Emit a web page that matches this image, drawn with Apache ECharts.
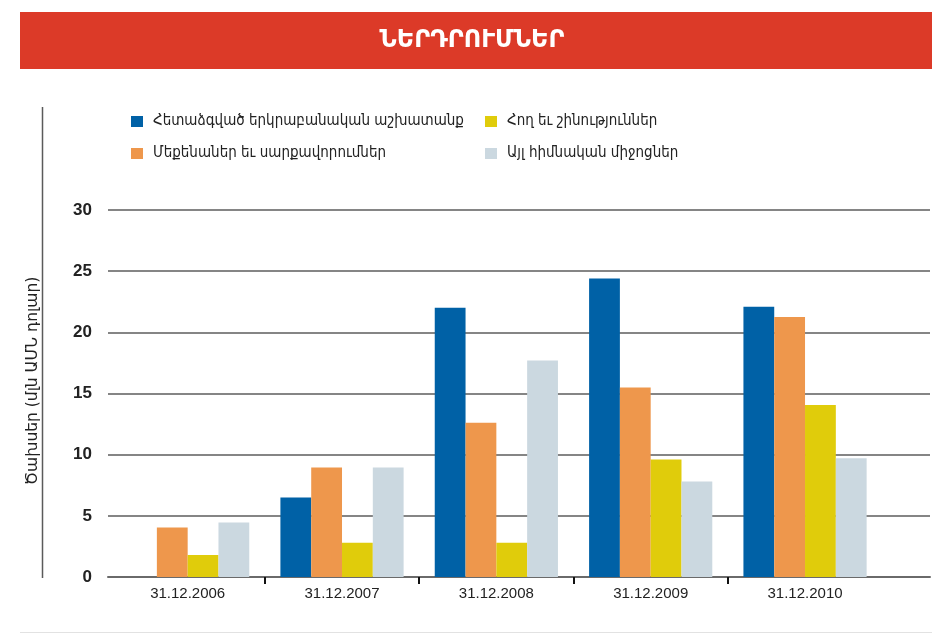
<!DOCTYPE html>
<html>
<head>
<meta charset="utf-8">
<script src="https://cdn.jsdelivr.net/npm/echarts@6/dist/echarts.min.js"></script>
<style>
html,body{margin:0;padding:0;background:#fff;}
#chart{width:932px;height:633px;}
</style>
</head>
<body>
<div id="chart"></div>
<script>
const titleText = 'ՆԵՐԴՐՈՒՄՆԵՐ';
const yAxisTitle = 'Ծախսեր (մլն ԱՄՆ դոլար)';
const categories = ['31.12.2006', '31.12.2007', '31.12.2008', '31.12.2009', '31.12.2010'];
const seriesNames = [
  'Հետաձգված երկրաբանական աշխատանք',
  'Մեքենաներ եւ սարքավորումներ',
  'Հող եւ շինություններ',
  'Այլ հիմնական միջոցներ'
];
const geoWork   = [null, 6.5, 22.0, 24.4, 22.1];
const machinery = [4.05, 8.95, 12.6, 15.5, 21.25];
const landBuild = [1.8, 2.8, 2.8, 9.6, 14.05];
const otherAssets = [4.45, 8.95, 17.7, 7.8, 9.7];
const yTicks = [0, 5, 10, 15, 20, 25, 30];
const boundaryTicks = [1, 2, 3, 4];

const colors = ['#0061A6', '#EE974C', '#E0CC0B', '#CBD8E0'];
const armFont = '"DejaVu Sans Condensed", "DejaVu Sans", sans-serif';

const chart = echarts.init(document.getElementById('chart'), null, {renderer: 'canvas'});
const values = [geoWork, machinery, landBuild, otherAssets];

const legendText = {fontFamily: armFont, fontSize: 15, color: '#222', padding: [0, 0, 0, 5]};

const option = {
  animation: false,
  backgroundColor: '#ffffff',
  graphic: [
    {type: 'rect', shape: {x: 20, y: 12, width: 912, height: 57}, style: {fill: '#DC3A28'}, z: 0},
    {type: 'text', x: 472, y: 41, style: {text: titleText, fill: '#ffffff', font: 'bold 24px "DejaVu Sans"', textAlign: 'center', textVerticalAlign: 'middle'}, z: 1},
    {type: 'line', shape: {x1: 42.5, y1: 107, x2: 42.5, y2: 578}, style: {stroke: '#5a5a5a', lineWidth: 1.5}},
    {type: 'line', shape: {x1: 20, y1: 632.5, x2: 932, y2: 632.5}, style: {stroke: '#e2e2e2', lineWidth: 1}},
    {type: 'text', x: 33, y: 381, rotation: Math.PI / 2, style: {text: yAxisTitle, fill: '#222', font: '15.5px "DejaVu Sans", sans-serif', textAlign: 'center', textVerticalAlign: 'middle'}}
  ],
  legend: [
    {
      left: 131, top: 114, orient: 'vertical', itemGap: 17, padding: 0,
      itemWidth: 12, itemHeight: 11, icon: 'rect',
      data: [seriesNames[0], seriesNames[1]],
      textStyle: legendText
    },
    {
      left: 485, top: 114, orient: 'vertical', itemGap: 17, padding: 0,
      itemWidth: 12, itemHeight: 11, icon: 'rect',
      data: [seriesNames[2], seriesNames[3]],
      textStyle: legendText
    }
  ],
  grid: [
    {left: 108, right: 2, top: 210, bottom: 56, containLabel: false},
    {left: 110.5, right: 49.8, top: 210, bottom: 56, containLabel: false}
  ],
  xAxis: [
    {
      type: 'value', gridIndex: 0, min: -0.016, max: 5.311,
      axisLine: {show: true, onZero: false, lineStyle: {color: '#6a6a6a', width: 2}},
      axisTick: {show: true, customValues: boundaryTicks, length: 7, lineStyle: {color: '#111', width: 2}},
      axisLabel: {show: false},
      splitLine: {show: false}
    },
    {
      type: 'category', gridIndex: 1, data: categories,
      axisLine: {show: false}, axisTick: {show: false},
      axisLabel: {margin: 9, fontFamily: '"Liberation Sans", sans-serif', fontSize: 15, color: '#222'}
    }
  ],
  yAxis: [
    {
      type: 'value', gridIndex: 0, min: 0, max: 30, interval: 5,
      axisLine: {show: false}, axisTick: {show: false},
      axisLabel: {margin: 16, fontFamily: '"Liberation Sans", sans-serif', fontWeight: 'bold', fontSize: 17, color: '#222',
        formatter: v => (yTicks.indexOf(v) >= 0 ? String(v) : '')},
      splitLine: {show: true, lineStyle: {color: '#858585', width: 2}}
    },
    {
      type: 'value', gridIndex: 1, min: 0, max: 30, interval: 5, show: false,
      splitLine: {show: false}
    }
  ],
  series: values.map((arr, i) => ({
    name: seriesNames[i],
    type: 'bar',
    xAxisIndex: 1, yAxisIndex: 1,
    data: arr,
    barWidth: 30.8,
    barGap: '0%',
    itemStyle: {color: colors[i]},
    z: 3
  }))
};
chart.setOption(option);
</script>
</body>
</html>
